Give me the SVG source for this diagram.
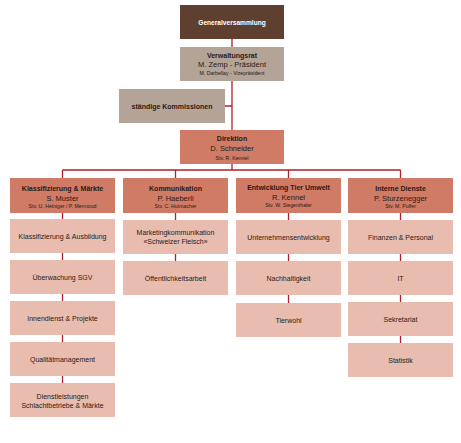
<svg xmlns="http://www.w3.org/2000/svg" width="461" height="443" viewBox="0 0 461 443">
<style>
text{font-family:"Liberation Sans",Arial,sans-serif;text-anchor:middle;fill:#2b1a14}
.b{font-weight:bold;font-size:7px}
.n{font-size:7.5px}
.s{font-size:5.2px}
.t{font-size:7px}
.w{fill:#ffffff;font-size:6.6px}
.gv{fill:#5e3f30}
.vr{fill:#b4a498}
.dr{fill:#d07b65}
.l3{fill:#e8bdaf}
.c{stroke:#b0212b;stroke-width:1.3;fill:none}
</style>
<rect width="461" height="443" fill="#ffffff"/>
<g id="connectors">
<path class="c" d="M232 38V170M225 106H232M62.5 170H400.5M62.5 170V400M175.5 170V278M288.5 170V320M400.5 170V360"/>
</g>
<g id="generalversammlung"><rect class="gv" x="180" y="5" width="104" height="34"/><text class="b w" x="232" y="24.5">Generalversammlung</text></g>
<g id="verwaltungsrat"><rect class="vr" x="180" y="47" width="104" height="34"/><text class="b" x="232" y="57.5">Verwaltungsrat</text><text class="n" x="232" y="66.5">M. Zemp - Präsident</text><text class="s" x="232" y="74.5">M. Darbellay - Vizepräsident</text></g>
<g id="kommissionen"><rect class="vr" x="119" y="89" width="106" height="34"/><text class="b" x="172" y="108.5">ständige Kommissionen</text></g>
<g id="direktion"><rect class="dr" x="180" y="130" width="104" height="34"/><text class="b" x="232" y="140.5">Direktion</text><text class="n" x="232" y="151">D. Schneider</text><text class="s" x="232" y="160">Stv. R. Kennel</text></g>
<g id="klassifizierung-maerkte"><rect class="dr" x="10" y="178" width="105" height="35"/><text class="b" x="62.5" y="191">Klassifizierung &amp; Märkte</text><text class="n" x="62.5" y="200.5">S. Muster</text><text class="s" x="62.5" y="207.5">Stv. U. Heiniger / P. Mermoud</text></g>
<g id="kommunikation"><rect class="dr" x="123" y="178" width="105" height="35"/><text class="b" x="175.5" y="191">Kommunikation</text><text class="n" x="175.5" y="200.5">P. Haeberli</text><text class="s" x="175.5" y="207.5">Stv. C. Hutmacher</text></g>
<g id="entwicklung"><rect class="dr" x="236" y="178" width="105" height="35"/><text class="b" x="288.5" y="190">Entwicklung Tier Umwelt</text><text class="n" x="288.5" y="199.5">R. Kennel</text><text class="s" x="288.5" y="207">Stv. W. Siegenthaler</text></g>
<g id="interne-dienste"><rect class="dr" x="348" y="178" width="105" height="35"/><text class="b" x="400.5" y="191">Interne Dienste</text><text class="n" x="400.5" y="200.5">P. Sturzenegger</text><text class="s" x="400.5" y="207.5">Stv. M. Pulfer</text></g>
<g id="klassifizierung-ausbildung"><rect class="l3" x="10" y="219" width="105" height="34"/><text class="t" x="62.5" y="238.5">Klassifizierung &amp; Ausbildung</text></g>
<g id="ueberwachung"><rect class="l3" x="10" y="260" width="105" height="34"/><text class="t" x="62.5" y="279.5">Überwachung SGV</text></g>
<g id="innendienst"><rect class="l3" x="10" y="301" width="105" height="34"/><text class="t" x="62.5" y="320.5">Innendienst &amp; Projekte</text></g>
<g id="qualitaet"><rect class="l3" x="10" y="342" width="105" height="34"/><text class="t" x="62.5" y="361.5">Qualitätmanagement</text></g>
<g id="dienstleistungen"><rect class="l3" x="10" y="383" width="105" height="34"/><text class="t" x="62.5" y="398.5">Dienstleistungen</text><text class="t" x="62.5" y="407.5">Schlachtbetriebe &amp; Märkte</text></g>
<g id="marketing"><rect class="l3" x="123" y="220" width="105" height="34"/><text class="t" x="175.5" y="235">Marketingkommunikation</text><text class="t" x="175.5" y="244">«Schweizer Fleisch»</text></g>
<g id="oeffentlichkeit"><rect class="l3" x="123" y="261" width="105" height="34"/><text class="t" x="175.5" y="280.5">Öffentlichkeitsarbeit</text></g>
<g id="unternehmensentwicklung"><rect class="l3" x="236" y="220" width="105" height="34"/><text class="t" x="288.5" y="239.5">Unternehmensentwicklung</text></g>
<g id="nachhaltigkeit"><rect class="l3" x="236" y="261" width="105" height="34"/><text class="t" x="288.5" y="280.5">Nachhaltigkeit</text></g>
<g id="tierwohl"><rect class="l3" x="236" y="303" width="105" height="34"/><text class="t" x="288.5" y="322.5">Tierwohl</text></g>
<g id="finanzen"><rect class="l3" x="348" y="220" width="105" height="34"/><text class="t" x="400.5" y="239.5">Finanzen &amp; Personal</text></g>
<g id="it"><rect class="l3" x="348" y="261" width="105" height="34"/><text class="t" x="400.5" y="280.5">IT</text></g>
<g id="sekretariat"><rect class="l3" x="348" y="302" width="105" height="34"/><text class="t" x="400.5" y="321.5">Sekretariat</text></g>
<g id="statistik"><rect class="l3" x="348" y="343" width="105" height="34"/><text class="t" x="400.5" y="362.5">Statistik</text></g>
</svg>
